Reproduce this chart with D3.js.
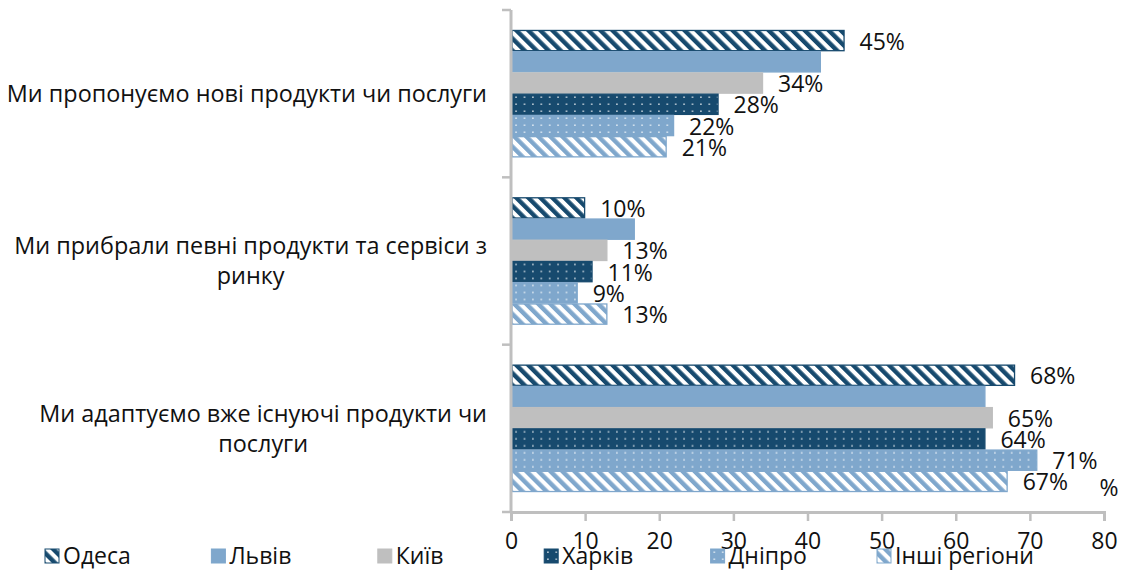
<!DOCTYPE html>
<html>
<head>
<meta charset="utf-8">
<script src="https://cdn.jsdelivr.net/npm/d3@7"></script>
<style>
  html, body { margin: 0; padding: 0; background: #fff; }
  svg { display: block; }
  text { font-family: "Open Sans", "Noto Sans", sans-serif; fill: #111; }
</style>
</head>
<body>
<svg id="chart" width="1123" height="572"></svg>
<script>
// Survey answers (rows) by city (series), values in %
const categories = [
  "Ми пропонуємо нові продукти чи послуги",
  "Ми прибрали певні продукти та сервіси з ринку",
  "Ми адаптуємо вже існуючі продукти чи послуги"
];
const series = ["Одеса", "Львів", "Київ", "Харків", "Дніпро", "Інші регіони"];
const odesa  = [45, 10, 68];
const lviv   = [41.8, 16.7, 64];
const kyiv   = [34, 13, 65];
const kharkiv = [28, 11, 64];
const dnipro = [22, 9, 71];
const others = [21, 13, 67];
const values = [odesa, lviv, kyiv, kharkiv, dnipro, others];
// Lviv bars carry no value label
const showLabel = [true, false, true, true, true, true];
const xTicks = [0, 10, 20, 30, 40, 50, 60, 70, 80];
const unitLabel = "%";

const NAVY = "#174a6e", LIGHT = "#7fa7cc", GRAY = "#bfbfbf";
const styles = [
  { fill: "url(#stripeNavy)", stroke: NAVY },
  { fill: LIGHT, stroke: LIGHT },
  { fill: GRAY, stroke: GRAY },
  { fill: "url(#dotNavy)", stroke: NAVY },
  { fill: "url(#dotLight)", stroke: LIGHT },
  { fill: "url(#stripeLight)", stroke: LIGHT }
];

const svg = d3.select("#chart");
const FONT = 23;
const CAT_FONT = 23.4;

// fill patterns
const defs = svg.append("defs");
function stripes(id, color) {
  const p = defs.append("pattern").attr("id", id)
    .attr("patternUnits", "userSpaceOnUse")
    .attr("width", 8.5).attr("height", 8.5)
    .attr("patternTransform", "rotate(-45)");
  p.append("rect").attr("width", 8.5).attr("height", 8.5).attr("fill", "#fff");
  p.append("rect").attr("width", 4.4).attr("height", 8.5).attr("fill", color);
}
function dots(id, color) {
  const p = defs.append("pattern").attr("id", id)
    .attr("patternUnits", "userSpaceOnUse")
    .attr("width", 8.4).attr("height", 7);
  p.append("rect").attr("width", 8.4).attr("height", 7).attr("fill", color);
  p.append("rect").attr("x", 3).attr("y", 2.5).attr("width", 1.4).attr("height", 1.4)
    .attr("fill", "#fff").attr("fill-opacity", 0.9);
}
stripes("stripeNavy", NAVY);
stripes("stripeLight", LIGHT);
dots("dotNavy", NAVY);
dots("dotLight", LIGHT);

// scales
const x = d3.scaleLinear().domain([0, 80]).range([511, 1104]);
const y0 = d3.scaleBand().domain(categories).range([10, 512]).padding(0);
const y1 = d3.scaleBand().domain(series).range([0, y0.bandwidth()])
  .paddingInner(0).paddingOuter(0.94);

// bars
const groups = svg.append("g").selectAll("g").data(categories).join("g")
  .attr("transform", d => `translate(0,${y0(d)})`);

series.forEach((s, si) => {
  groups.append("rect")
    .attr("x", x(0) + 1)
    .attr("y", y1(s) + 0.5)
    .attr("width", (d, ci) => x(values[si][ci]) - x(0) - 1.5)
    .attr("height", y1.bandwidth() - 1)
    .attr("fill", styles[si].fill)
    .attr("stroke", styles[si].stroke)
    .attr("stroke-width", 1.3);
});

// value labels
series.forEach((s, si) => {
  if (!showLabel[si]) return;
  groups.append("text")
    .attr("x", (d, ci) => x(values[si][ci]) + 15)
    .attr("y", y1(s) + y1.bandwidth() / 2 + 1)
    .attr("dy", "0.35em")
    .attr("font-size", FONT)
    .text((d, ci) => Math.round(values[si][ci]) + "%");
});

// y axis line with band separators
const axisColor = "#bfbfbf";
svg.append("line")
  .attr("x1", x(0)).attr("x2", x(0))
  .attr("y1", y0.range()[0]).attr("y2", y0.range()[1])
  .attr("stroke", axisColor).attr("stroke-width", 3);
const bounds = categories.map(c => y0(c)).concat([y0.range()[1]]);
svg.append("g").selectAll("line").data(bounds).join("line")
  .attr("x1", x(0) - 9).attr("x2", x(0))
  .attr("y1", d => d).attr("y2", d => d)
  .attr("stroke", axisColor).attr("stroke-width", 2.5);

// x axis
const xAxis = svg.append("g")
  .attr("transform", `translate(0,${y0.range()[1]})`)
  .call(d3.axisBottom(x).tickValues(xTicks).tickSize(9).tickPadding(12));
xAxis.select(".domain").attr("stroke", axisColor).attr("stroke-width", 3);
xAxis.selectAll(".tick line").attr("stroke", axisColor).attr("stroke-width", 2.5);
xAxis.selectAll(".tick text")
  .attr("font-size", FONT).attr("font-family", null).attr("fill", "#111");

svg.append("text")
  .attr("x", 1109).attr("y", 488).attr("dy", "0.35em")
  .attr("text-anchor", "middle").attr("font-size", FONT)
  .text(unitLabel);

// category labels, wrapped and centred in a block ending at the axis
const labelRight = 487, maxWidth = 482, lineH = 30;
categories.forEach(c => {
  const words = c.split(" ");
  const probe = svg.append("text").attr("font-size", CAT_FONT);
  const lines = [];
  let cur = [];
  words.forEach(w => {
    cur.push(w);
    probe.text(cur.join(" "));
    if (probe.node().getComputedTextLength() > maxWidth && cur.length > 1) {
      cur.pop();
      lines.push(cur.join(" "));
      cur = [w];
    }
  });
  lines.push(cur.join(" "));
  const widths = lines.map(l => { probe.text(l); return probe.node().getComputedTextLength(); });
  probe.remove();
  const blockW = d3.max(widths);
  const cx = labelRight - blockW / 2;
  const cy = y0(c) + y0.bandwidth() / 2;
  const t = svg.append("text").attr("text-anchor", "middle").attr("font-size", CAT_FONT);
  lines.forEach((l, i) => {
    t.append("tspan")
      .attr("x", cx)
      .attr("y", cy + (i - (lines.length - 1) / 2) * lineH)
      .attr("dy", "0.35em")
      .text(l);
  });
});

// legend
const lx = d3.scalePoint().domain(series).range([45, 877]);
const leg = svg.append("g").selectAll("g").data(series).join("g")
  .attr("transform", d => `translate(${lx(d)},556)`);
leg.append("rect")
  .attr("x", 0).attr("y", -7).attr("width", 14).attr("height", 14)
  .attr("fill", (d, i) => styles[i].fill)
  .attr("stroke", (d, i) => styles[i].stroke).attr("stroke-width", 1);
leg.append("text")
  .attr("x", 18).attr("dy", "0.35em").attr("font-size", FONT)
  .text(d => d);
</script>
</body>
</html>
